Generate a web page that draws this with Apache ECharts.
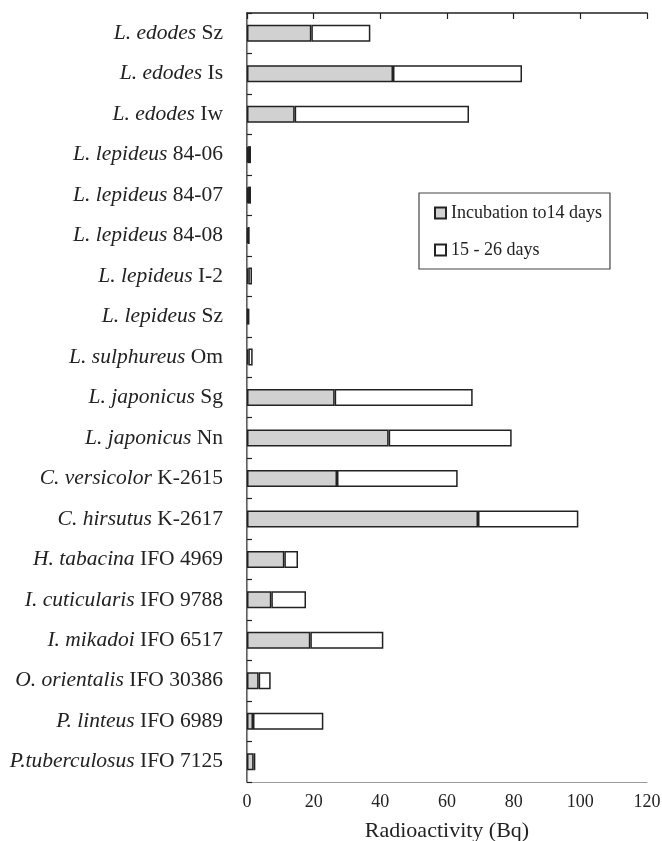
<!DOCTYPE html>
<html>
<head>
<meta charset="utf-8">
<script src="https://cdn.jsdelivr.net/npm/echarts@6/dist/echarts.min.js"></script>
<style>html,body{margin:0;padding:0;background:#fff;}#c{width:662px;height:841px;}</style>
</head>
<body>
<div id="c"></div>
<script>
var species = ['L. edodes','L. edodes','L. edodes','L. lepideus','L. lepideus','L. lepideus','L. lepideus','L. lepideus','L. sulphureus','L. japonicus','L. japonicus','C. versicolor','C. hirsutus','H. tabacina','I. cuticularis','I. mikadoi','O. orientalis','P. linteus','P.tuberculosus'];
var strains = ['Sz','Is','Iw','84-06','84-07','84-08','I-2','Sz','Om','Sg','Nn','K-2615','K-2617','IFO 4969','IFO 9788','IFO 6517','IFO 30386','IFO 6989','IFO 7125'];
var early = [19.3, 43.8, 14.3, 0.3, 0.3, 0.3, 0.4, 0.3, 0.4, 26.3, 42.5, 27.0, 69.3, 11.2, 7.3, 19.0, 3.5, 1.8, 2.0];
var late = [17.7, 38.7, 52.3, 0.9, 0.9, 0.5, 1.1, 0.4, 1.3, 41.4, 36.9, 36.2, 30.1, 4.1, 10.4, 21.9, 3.6, 21.1, 0.5];
var xTicks = [0, 20, 40, 60, 80, 100, 120];
var seriesNames = ['Incubation to14 days', '15 - 26 days'];

var categories = species.map(function(s, i){ return s + ' ' + strains[i]; });
var font = 'Liberation Serif';
var chart = echarts.init(document.getElementById('c'));
chart.setOption({
  animation: false,
  backgroundColor: '#fff',
  grid: {left: 247, right: 15, top: 13, bottom: 59, containLabel: false, outerBoundsMode: 'none'},
  legend: {
    orient: 'vertical', left: 419, top: 193,
    data: seriesNames,
    itemWidth: 11, itemHeight: 11, itemGap: 19, itemTextGap: 6,
    icon: 'rect',
    padding: [11, 8, 10, 15],
    borderColor: '#444', borderWidth: 1.2,
    textStyle: {fontFamily: font, fontSize: 18, color: '#222', lineHeight: 18}
  },
  xAxis: [{
    type: 'value', position: 'bottom', min: xTicks[0], max: xTicks[xTicks.length-1], interval: 20,
    axisLine: {show: true, lineStyle: {color: '#999', width: 1.2}},
    axisTick: {show: false},
    splitLine: {show: false},
    axisLabel: {fontFamily: font, fontSize: 18, color: '#222', margin: 11},
    name: 'Radioactivity (Bq)', nameLocation: 'middle', nameGap: 38,
    nameTextStyle: {fontFamily: font, fontSize: 22, color: '#222'}
  }, {
    type: 'value', position: 'top', min: xTicks[0], max: xTicks[xTicks.length-1], interval: 20,
    axisLine: {show: true, lineStyle: {color: '#222', width: 1.5}},
    axisTick: {show: true, inside: true, length: 6, lineStyle: {color: '#222', width: 1.2}},
    axisLabel: {show: false}, splitLine: {show: false}
  }],
  yAxis: [{
    type: 'category', data: categories, inverse: true,
    axisLine: {show: true, lineStyle: {color: '#222', width: 1.5}},
    axisTick: {show: true, inside: true, length: 5, lineStyle: {color: '#222', width: 1.2}},
    axisLabel: {
      margin: 24, fontFamily: font, fontSize: 21.5, color: '#222',
      formatter: function(v, i){ return '{i|' + species[i] + '} {n|' + strains[i] + '}'; },
      rich: {
        i: {fontFamily: font, fontSize: 21.5, fontStyle: 'italic', color: '#222'},
        n: {fontFamily: font, fontSize: 21.5, color: '#222'}
      }
    }
  }, {
    type: 'category', data: categories, inverse: true, position: 'right',
    axisLine: {show: true, lineStyle: {color: '#999', width: 1.2}},
    axisTick: {show: false}, axisLabel: {show: false}
  }],
  series: [{
    name: seriesNames[0], type: 'bar', stack: 'a', data: early, barWidth: 17,
    itemStyle: {color: '#d0d1d0', borderColor: '#222', borderWidth: 1.5}
  }, {
    name: seriesNames[1], type: 'bar', stack: 'a', data: late, barWidth: 17,
    itemStyle: {color: '#ffffff', borderColor: '#222', borderWidth: 1.5}
  }]
});
</script>
</body>
</html>
